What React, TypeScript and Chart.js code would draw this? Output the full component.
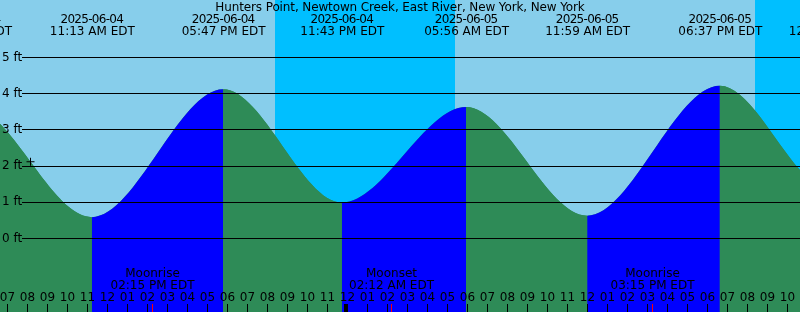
import React, { useEffect, useRef } from 'react';
import { Chart, registerables } from 'chart.js';

Chart.register(...registerables);

// ---- Data (hours counted from 2025-06-04 00:00 EDT) ----
const TITLE = 'Hunters Point, Newtown Creek, East River, New York, New York';
const BASE_DAY = { year: 2025, month: 6, day: 4 };

// Tide extremes: time (h) and height (ft)
const TIDE_TIMES = [
  -1 - 5 / 60, 5 + 5 / 60, 11 + 13 / 60, 17 + 47 / 60, 23 + 43 / 60,
  29 + 56 / 60, 35 + 59 / 60, 42 + 37 / 60, 48 + 10 / 60, 54 + 30 / 60,
];
const TIDE_HEIGHTS = [1.0, 3.65, 0.59, 4.12, 0.99, 3.63, 0.63, 4.22, 1.35, 3.7];

// Night periods (sunset -> sunrise)
const NIGHT_STARTS = [20 + 23 / 60, 44 + 23 / 60];
const NIGHT_ENDS = [29 + 23 / 60, 53 + 24 / 60];

// Moon events
const MOON_NAMES = ['Moonrise', 'Moonset', 'Moonrise'];
const MOON_TIMES = [14 + 15 / 60, 26 + 12 / 60, 39 + 15 / 60];

// "+" mark
const MARK_TIMES = [8.15];
const MARK_HEIGHTS = [2.12];

// Axes
const Y_TICKS = [0, 1, 2, 3, 4, 5];
const X_MIN = 6.625;
const X_MAX = 46.625;
const Y_MIN = -2.03;
const Y_MAX = 6.588;

// ---- Styles ----
const DAY_COLOR = '#87CEEB';
const NIGHT_COLOR = '#00BFFF';
const RISE_COLOR = '#0000FF';
const FALL_COLOR = '#2E8B57';
const TEXT_COLOR = '#000000';
const FONT_FAMILY = "'DejaVu Sans', sans-serif";
const FONT = `12px ${FONT_FAMILY}`;

const pad = (n: number) => String(n).padStart(2, '0');

function fmtDate(t: number) {
  const mins = Math.round(t * 60);
  const dayOff = Math.floor(mins / 1440);
  const d = new Date(Date.UTC(BASE_DAY.year, BASE_DAY.month - 1, BASE_DAY.day + dayOff));
  return `${d.getUTCFullYear()}-${pad(d.getUTCMonth() + 1)}-${pad(d.getUTCDate())}`;
}

function fmtTime(t: number) {
  const mins = Math.round(t * 60);
  const m = ((mins % 1440) + 1440) % 1440;
  const h = Math.floor(m / 60);
  const mm = m % 60;
  const h12 = h % 12 === 0 ? 12 : h % 12;
  return `${pad(h12)}:${pad(mm)} ${h < 12 ? 'AM' : 'PM'} EDT`;
}

function fmtHour(v: number) {
  const h = ((Math.round(v) % 24) + 24) % 24;
  const h12 = h % 12 === 0 ? 12 : h % 12;
  return pad(h12);
}

function setSpacing(ctx: any, v: string) {
  if ('letterSpacing' in ctx) ctx.letterSpacing = v;
}

const decorPlugin = {
  id: 'tideDecor',
  beforeDraw(chart: any) {
    const { ctx, chartArea: a, scales } = chart;
    const x = scales.x;
    ctx.save();
    ctx.fillStyle = DAY_COLOR;
    ctx.fillRect(a.left, a.top, a.right - a.left, a.bottom - a.top);
    ctx.fillStyle = NIGHT_COLOR;
    NIGHT_STARTS.forEach((s, i) => {
      const x0 = Math.max(a.left, Math.round(x.getPixelForValue(s)));
      const x1 = Math.min(a.right, Math.round(x.getPixelForValue(NIGHT_ENDS[i])));
      if (x1 > x0) ctx.fillRect(x0, a.top, x1 - x0, a.bottom - a.top);
    });
    ctx.restore();
  },
  afterDatasetsDraw(chart: any) {
    const { ctx, chartArea: a, scales } = chart;
    const y = scales.y;
    ctx.save();
    ctx.strokeStyle = '#000';
    ctx.lineWidth = 1;
    ctx.beginPath();
    y.ticks.forEach((tk: any) => {
      const py = Math.floor(y.getPixelForValue(tk.value)) + 0.5;
      ctx.moveTo(a.left + 22, py);
      ctx.lineTo(a.right, py);
    });
    ctx.stroke();
    ctx.restore();
  },
  afterDraw(chart: any) {
    const { ctx, chartArea: a, scales } = chart;
    const x = scales.x;
    ctx.save();
    ctx.font = FONT;
    ctx.fillStyle = TEXT_COLOR;
    ctx.textAlign = 'center';
    ctx.textBaseline = 'middle';

    setSpacing(ctx, '-0.12px');
    ctx.fillText(TITLE, (a.left + a.right) / 2, a.top + 7.5);

    TIDE_TIMES.forEach((t) => {
      const px = x.getPixelForValue(t);
      setSpacing(ctx, '-0.7px');
      ctx.fillText(fmtDate(t), px, a.top + 19.5);
      setSpacing(ctx, '0px');
      ctx.fillText(fmtTime(t), px + 0.5, a.top + 31.5);
    });

    MOON_TIMES.forEach((t, i) => {
      const px = x.getPixelForValue(t);
      ctx.fillText(MOON_NAMES[i], px, a.bottom - 38.5);
      ctx.fillText(fmtTime(t), px, a.bottom - 26.5);
    });

    x.ticks.forEach((tk: any) => {
      const px = x.getPixelForValue(tk.value);
      ctx.fillStyle = TEXT_COLOR;
      ctx.fillText(fmtHour(tk.value), px, a.bottom - 14.5);
      const col = Math.floor(px);
      if (Math.round(tk.value) % 24 === 0) {
        ctx.fillRect(col - 3, a.bottom - 8, 4, 8);
      } else {
        ctx.fillRect(col, a.bottom - 8, 1, 8);
      }
    });

    ctx.fillStyle = '#FF0000';
    MOON_TIMES.forEach((t) => {
      const col = Math.floor(x.getPixelForValue(t));
      ctx.fillRect(col, a.bottom - 8, 1, 8);
    });
    ctx.restore();
  },
};

export default function App() {
  const canvasRef = useRef<HTMLCanvasElement | null>(null);

  useEffect(() => {
    document.body.style.margin = '0';
    const canvas = canvasRef.current;
    if (!canvas) return;

    const tideData = TIDE_TIMES.map((t, i) => ({ x: t, y: TIDE_HEIGHTS[i] }));
    const markData = MARK_TIMES.map((t, i) => ({ x: t, y: MARK_HEIGHTS[i] }));

    const common = {
      type: 'line',
      data: tideData,
      fill: 'start',
      borderColor: 'rgba(0,0,0,0)',
      borderWidth: 0,
      pointRadius: 0,
      cubicInterpolationMode: 'monotone',
      capBezierPoints: false,
    };

    const chart = new Chart(canvas, {
      type: 'line',
      data: {
        datasets: [
          {
            ...common,
            label: 'Tide',
            backgroundColor: FALL_COLOR,
            segment: {
              backgroundColor: (c: any) => (c.p1.parsed.y > c.p0.parsed.y ? RISE_COLOR : FALL_COLOR),
            },
            order: 1,
          } as any,
          {
            ...common,
            label: 'Tide underlay',
            backgroundColor: FALL_COLOR,
            order: 2,
          } as any,
          {
            type: 'scatter',
            label: 'Mark',
            data: markData,
            pointStyle: 'cross',
            pointRadius: 4,
            borderColor: '#000',
            backgroundColor: '#000',
            borderWidth: 1,
            order: 0,
          } as any,
        ],
      },
      options: {
        responsive: false,
        animation: false,
        devicePixelRatio: 1,
        events: [],
        layout: { padding: 0, autoPadding: false },
        plugins: {
          legend: { display: false },
          title: { display: false },
          tooltip: { enabled: false },
        },
        scales: {
          x: {
            type: 'linear',
            display: false,
            bounds: 'data',
            afterDataLimits: (s: any) => {
              s.min = X_MIN;
              s.max = X_MAX;
            },
            afterBuildTicks: (s: any) => {
              const ticks = [];
              for (let v = Math.ceil(s.min); v <= Math.floor(s.max); v++) ticks.push({ value: v });
              s.ticks = ticks;
            },
          },
          y: {
            type: 'linear',
            display: true,
            position: 'left',
            bounds: 'data',
            min: Y_MIN,
            max: Y_MAX,
            grid: { display: false, drawTicks: false },
            border: { display: false },
            ticks: {
              z: 1,
              mirror: true,
              padding: 2,
              color: TEXT_COLOR,
              font: { family: FONT_FAMILY, size: 12 },
              callback: (v: any) => `${v} ft`,
            },
            afterBuildTicks: (s: any) => {
              s.ticks = Y_TICKS.map((v) => ({ value: v }));
            },
            afterFit: (s: any) => {
              s.width = 0;
              s.paddingTop = 0;
              s.paddingBottom = 0;
              s.paddingLeft = 0;
              s.paddingRight = 0;
            },
          },
        },
      } as any,
      plugins: [decorPlugin],
    });

    return () => chart.destroy();
  }, []);

  return (
    <div style={{ position: 'absolute', left: 0, top: 0, width: 800, height: 312 }}>
      <canvas ref={canvasRef} width={800} height={312} style={{ display: 'block', width: 800, height: 312 }} />
    </div>
  );
}
